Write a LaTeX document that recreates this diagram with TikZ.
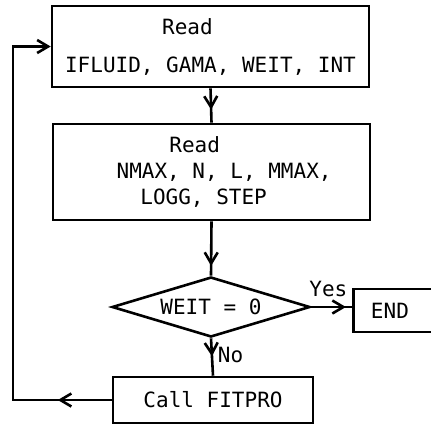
\documentclass[tikz,border=0pt]{standalone}
\usepackage{fontspec}
\setmainfont{DejaVu Sans Mono}
\usetikzlibrary{positioning,arrows.meta,shapes.geometric,calc,decorations.markings}

\begin{document}
\begin{tikzpicture}[x=0.5pt,y=-0.5pt,font=\fontsize{10.5}{13}\selectfont,
  box/.style={draw,line width=1.3pt,inner sep=2pt,align=center},
  test/.style={draw,line width=1.3pt,diamond,aspect=3.3,inner sep=0pt,minimum width=99pt,minimum height=30pt},
  flow/.style={line width=1.3pt,decoration={markings,mark=at position #1 with {\arrow{Straight Barb[length=5.5pt,width=6.5pt]}}},postaction={decorate}}]
  \useasboundingbox (0,0) rectangle (431,424);
  % boxes from top to bottom
  \node[box,minimum width=158.5pt,minimum height=40.5pt] (rd1) at (210.5,46.5)
    {\hspace*{-2.2em}Read\\[6pt]IFLUID, GAMA, WEIT, INT};
  \node[box,minimum width=158.5pt,minimum height=48pt] (rd2) at (211.5,172)
    {\hspace*{-1.6em}Read\\\hspace*{1.2em}NMAX, N, L, MMAX,\\\hspace*{-0.75em}LOGG, STEP};
  \node[test] (weit) at (211,307) {WEIT = 0};
  \node[box,minimum width=44pt,minimum height=21.5pt,anchor=west] (stop) at (352,310.5) {END\hspace*{0.7em}};
  \node[box,minimum width=100pt,minimum height=23pt] (fit) at (213,400) {Call FITPRO};
  \coordinate (ret) at (13,0);
  % connectors
  \draw[flow=0.62] (rd1.south) -- (rd2.north);
  \draw[flow=0.82] (rd2.south) -- (weit.north);
  \draw[flow=0.85] (weit.east) -- (weit.east -| stop.west) node[pos=0.42,above=1pt] {Yes};
  \draw[flow=0.48] (weit.south) -- (fit.north) node[pos=0.45,right=-1pt] {No};
  \draw[flow=0.11,-{Straight Barb[length=5.5pt,width=6.5pt]}] (fit.west) -- (fit.west -| ret) |- (rd1.west);
\end{tikzpicture}
\end{document}
